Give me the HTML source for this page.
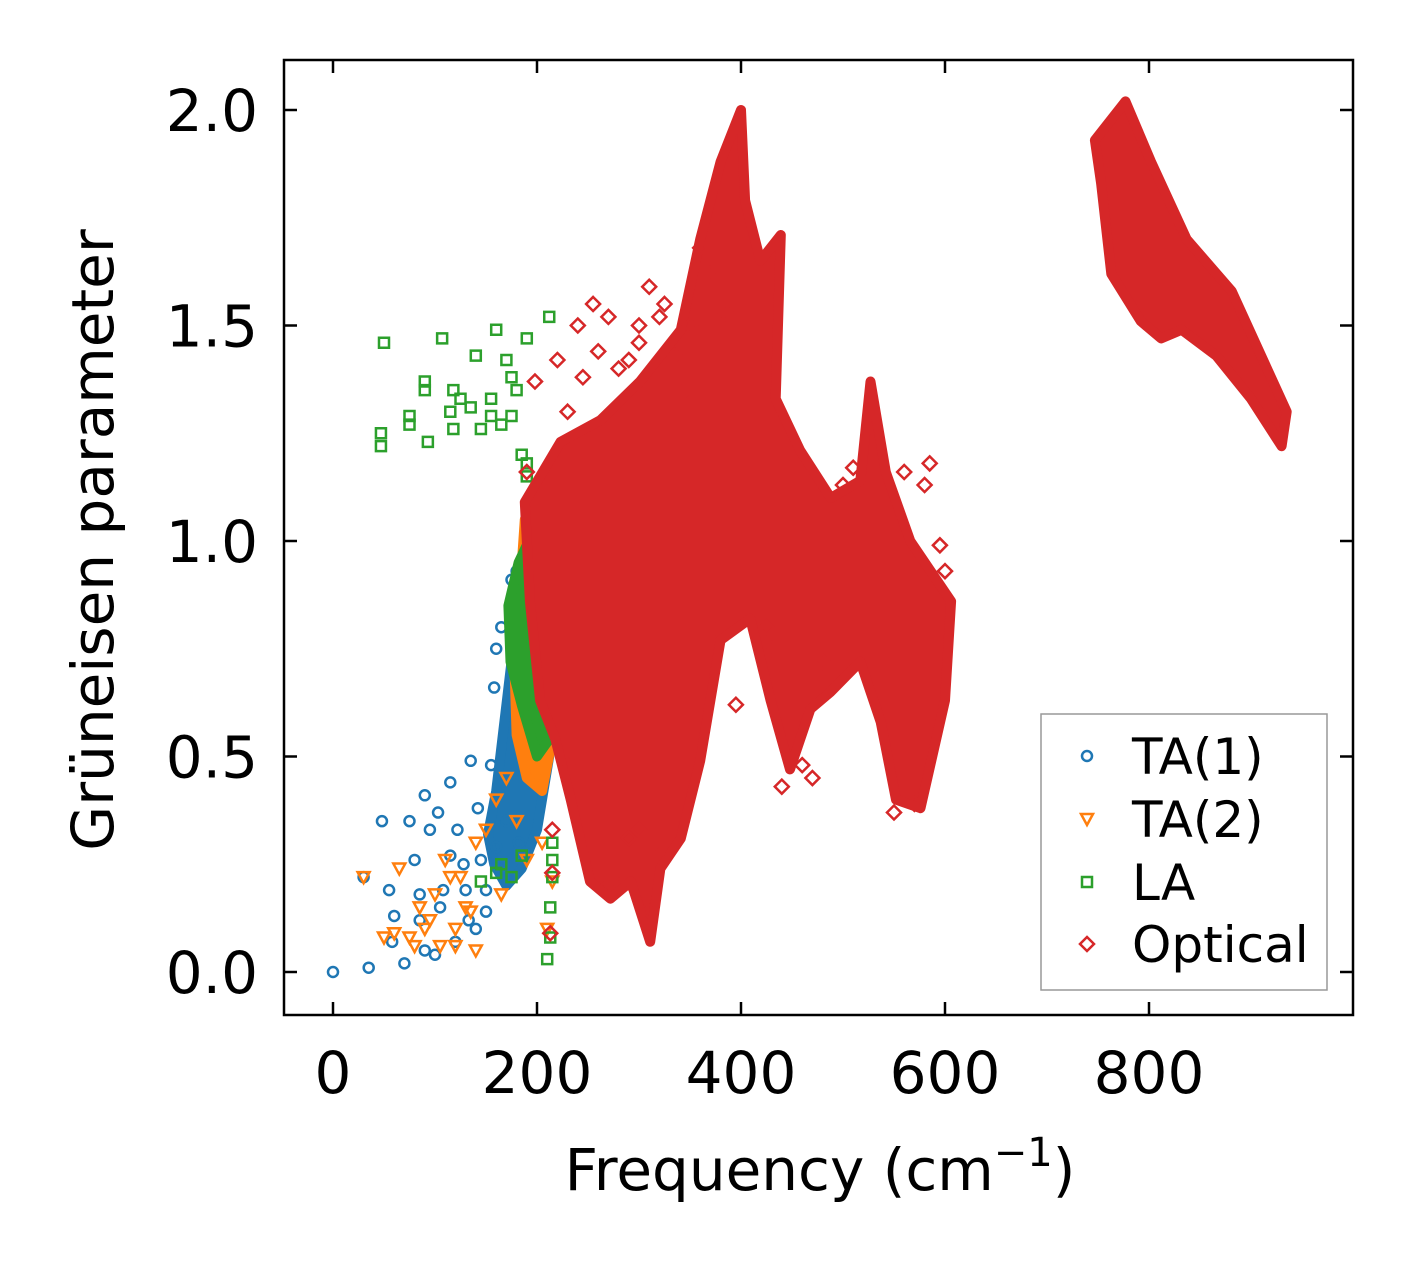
<!DOCTYPE html>
<html><head><meta charset="utf-8"><style>
html,body{margin:0;padding:0;background:#fff;}
svg text{font-family:"DejaVu Sans","Liberation Sans",sans-serif;fill:#000;}
</style></head><body>
<svg id="chart" width="1413" height="1264" viewBox="0 0 1413 1264" xmlns="http://www.w3.org/2000/svg">
<rect width="1413" height="1264" fill="#fff"/>
<g id="marks"></g>
<g id="axes"></g>
<g id="legend"></g>
</svg>
<script>
const xTicks=[0,200,400,600,800];
const yTicks=[0.0,0.5,1.0,1.5,2.0];
const xTickLabels=["0","200","400","600","800"];
const yTickLabels=["0.0","0.5","1.0","1.5","2.0"];
const seriesNames=["TA(1)","TA(2)","LA","Optical"];
const ta1F=[0,35,70,30,48,55,60,58,75,80,85,90,90,95,100,103,108,115,115,120,122,128,130,133,135,140,142,145,150,155,158,160,165,175,180,185,190,195,200,205,207,210,190,170,182,150,160,105,85];
const ta1G=[0,0.01,0.02,0.22,0.35,0.19,0.13,0.07,0.35,0.26,0.18,0.05,0.41,0.33,0.04,0.37,0.19,0.27,0.44,0.07,0.33,0.25,0.19,0.12,0.49,0.1,0.38,0.26,0.14,0.48,0.66,0.75,0.8,0.91,0.93,0.7,0.65,0.62,0.84,1.03,0.5,0.96,0.52,0.35,0.3,0.19,0.29,0.15,0.12];
const ta2F=[50,60,75,85,95,100,110,115,120,130,140,150,160,170,180,190,200,205,120,140,65,30,80,90,105,125,135,165,215,210];
const ta2G=[0.08,0.09,0.08,0.15,0.12,0.18,0.26,0.22,0.1,0.15,0.3,0.33,0.4,0.45,0.35,0.26,0.5,0.3,0.06,0.05,0.24,0.22,0.06,0.1,0.06,0.22,0.14,0.18,0.21,0.1];
const laF=[50,47,47,107,140,160,190,212,90,90,75,75,93,115,118,118,125,135,145,155,155,165,170,175,180,175,185,190,190,213,213,215,210,165,175,185,215,215,145,160];
const laG=[1.46,1.25,1.22,1.47,1.43,1.49,1.47,1.52,1.37,1.35,1.29,1.27,1.23,1.30,1.35,1.26,1.33,1.31,1.26,1.29,1.33,1.27,1.42,1.38,1.35,1.29,1.20,1.15,1.18,0.15,0.08,0.3,0.03,0.25,0.22,0.27,0.26,0.22,0.21,0.23];
const optF=[215,215,213,190,198,220,240,255,270,290,300,310,325,345,360,385,440,460,470,500,510,560,580,585,595,600,550,570,395,375,320,310,265,280,425,430,480,230,250,290,300,230,245,260,280,300,320,335,350,370];
const optG=[0.23,0.33,0.09,1.16,1.37,1.42,1.5,1.55,1.52,1.42,1.5,1.59,1.55,1.35,1.68,1.53,0.43,0.48,0.45,1.13,1.17,1.16,1.13,1.18,0.99,0.93,0.37,0.39,0.62,0.8,0.27,0.14,0.19,0.2,0.8,0.75,0.72,0.48,0.3,0.31,0.33,1.3,1.38,1.44,1.4,1.46,1.52,1.43,1.5,1.62];
const ta1DenseF=[160,175,195,210,212,200,185,170,158,152];
const ta1DenseG=[0.42,0.72,0.78,0.68,0.5,0.33,0.24,0.2,0.25,0.32];
const ta2DenseF=[178,188,200,215,225,220,205,190,180];
const ta2DenseG=[0.7,1.05,1.06,1.0,0.9,0.6,0.42,0.45,0.55];
const laDenseF=[172,182,200,215,228,228,215,200,185,174];
const laDenseG=[0.85,0.95,1.04,1.04,0.95,0.6,0.55,0.5,0.62,0.72];
const optMainF=[188,223,262,301,341,360,380,400,404,419,439,434,458,488,517,527,542,566,606,600,576,552,537,517,488,468,448,429,409,380,360,341,321,311,292,272,252,233,218,203,193];
const optMainG=[1.09,1.23,1.28,1.37,1.49,1.70,1.88,2.0,1.79,1.65,1.71,1.33,1.21,1.10,1.14,1.37,1.16,1.0,0.86,0.63,0.38,0.40,0.58,0.72,0.65,0.61,0.47,0.63,0.82,0.77,0.49,0.31,0.24,0.07,0.21,0.17,0.21,0.40,0.54,0.63,0.86];
const optHighF=[747,777,802,837,881,935,930,900,866,832,812,792,763,753];
const optHighG=[1.93,2.02,1.88,1.70,1.58,1.30,1.22,1.33,1.43,1.49,1.47,1.51,1.62,1.83];

const L=284,R=1353,T=60,B=1015;
const sx=f=>333+f*(1149-333)/800;
const sy=g=>972-g*(972-110)/2;
const NS="http://www.w3.org/2000/svg";
const marks=document.getElementById('marks'),axes=document.getElementById('axes'),legend=document.getElementById('legend');
const C=["#1f77b4","#ff7f0e","#2ca02c","#d62728"];
function mk(tag,attrs,parent){const e=document.createElementNS(NS,tag);for(const k in attrs)e.setAttribute(k,attrs[k]);parent.appendChild(e);return e;}
function markerPath(kind,x,y){
  if(kind===1)return `M${x-6},${y-5} L${x+6},${y-5} L${x},${y+6} Z`;
  if(kind===2)return `M${x-5},${y-5} h10 v10 h-10 Z`;
  return `M${x},${y-7} L${x+7},${y} L${x},${y+7} L${x-7},${y} Z`;
}
function dense(F,G,color,name){
  const pts=F.map((f,i)=>sx(f).toFixed(1)+","+sy(G[i]).toFixed(1)).join(" ");
  const p=mk('polygon',{points:pts,fill:color,stroke:color,'stroke-width':10,'stroke-linejoin':'round'},marks);
  
  
}
function scatter(F,G,kind,name){
  F.forEach((f,i)=>{
    const x=sx(f),y=sy(G[i]);let e;
    if(kind===0)e=mk('circle',{cx:x,cy:y,r:5,fill:'none',stroke:C[0],'stroke-width':2.5},marks);
    else e=mk('path',{d:markerPath(kind,x,y),fill:'none',stroke:C[kind],'stroke-width':2.5},marks);
    
    
  });
}
dense(ta1DenseF,ta1DenseG,C[0],'ta1-dense-region');
scatter(ta1F,ta1G,0,'ta1-point');
dense(ta2DenseF,ta2DenseG,C[1],'ta2-dense-region');
scatter(ta2F,ta2G,1,'ta2-point');
dense(laDenseF,laDenseG,C[2],'la-dense-region');
scatter(laF,laG,2,'la-point');
dense(optMainF,optMainG,C[3],'optical-dense-region');
dense(optHighF,optHighG,C[3],'optical-high-branch');
scatter(optF,optG,3,'optical-point');

const fr=mk('rect',{x:L,y:T,width:R-L,height:B-T,fill:'none',stroke:'#000','stroke-width':2.5},axes);


xTicks.forEach((v,i)=>{
  const x=sx(v);
  mk('line',{x1:x,y1:B,x2:x,y2:B-13,stroke:'#000','stroke-width':2.5},axes);
  mk('line',{x1:x,y1:T,x2:x,y2:T+13,stroke:'#000','stroke-width':2.5},axes);
  const t=mk('text',{x:x,y:1093,'text-anchor':'middle','font-size':58},axes);
  t.textContent=xTickLabels[i];
  
  
});
yTicks.forEach((v,i)=>{
  const y=sy(v);
  mk('line',{x1:L,y1:y,x2:L+13,y2:y,stroke:'#000','stroke-width':2.5},axes);
  mk('line',{x1:R,y1:y,x2:R-13,y2:y,stroke:'#000','stroke-width':2.5},axes);
  const t=mk('text',{x:258,y:y+21,'text-anchor':'end','font-size':58},axes);
  t.textContent=yTickLabels[i];
  
  
});
const xl=mk('text',{x:820,y:1190,'text-anchor':'middle','font-size':58},axes);
xl.innerHTML='Frequency (cm<tspan dy="-24" font-size="40">−1</tspan><tspan dy="24">)</tspan>';


const yl=mk('text',{x:0,y:0,'text-anchor':'middle','font-size':58,transform:'translate(113,540) rotate(-90)'},axes);
yl.textContent='Grüneisen parameter';



const lb=mk('rect',{x:1041,y:714,width:286,height:276,fill:'#fff',stroke:'#999','stroke-width':1.5},legend);


const ly=[756,819,882,944];
seriesNames.forEach((n,k)=>{
  const g=mk('g',{},legend);
  
  
  const x=1087,y=ly[k];
  if(k===0)mk('circle',{cx:x,cy:y,r:5,fill:'none',stroke:C[0],'stroke-width':2.5},g);
  else mk('path',{d:markerPath(k,x,y),fill:'none',stroke:C[k],'stroke-width':2.5},g);
  const t=mk('text',{x:1132,y:y+18,'font-size':50},g);
  t.textContent=n;
});
</script>
</body></html>
